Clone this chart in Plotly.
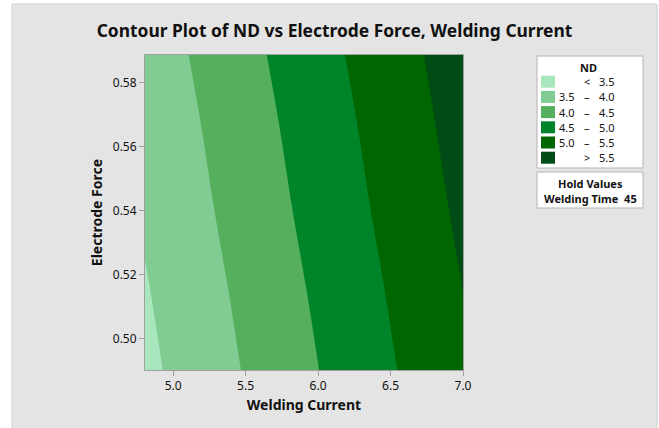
import plotly.graph_objects as go

# Data (ND at a coarse grid)
welding_current = [4.8, 5.35, 5.9, 6.45, 7.0]
electrode_force = [0.49, 0.515, 0.54, 0.565, 0.59]
nd_values = [
    [3.38, 3.89, 4.40, 4.91, 5.42],
    [3.46, 3.97, 4.48, 4.99, 5.50],
    [3.55, 4.06, 4.57, 5.08, 5.59],
    [3.63, 4.14, 4.65, 5.16, 5.67],
    [3.72, 4.23, 4.74, 5.25, 5.75],
]
band_colors = ["#A8E6BE", "#80CC92", "#55AF5D", "#00842A", "#006600", "#004C16"]
band_low = ["", "3.5", "4.0", "4.5", "5.0", ""]
band_sym = ["<", "–", "–", "–", "–", ">"]
band_high = ["3.5", "4.0", "4.5", "5.0", "5.5", "5.5"]
x_ticks = [5.0, 5.5, 6.0, 6.5, 7.0]
y_ticks = [0.50, 0.52, 0.54, 0.56, 0.58]

W, H = 659, 428
L, R, T, B = 145, 463, 55, 370
pw, ph = R - L, B - T

def px(x):
    return (x - L) / pw

def py(y):
    return (B - y) / ph

font = "Noto Sans"
fig = go.Figure()
fig.add_trace(go.Contour(
    x=welding_current, y=electrode_force, z=nd_values,
    contours=dict(start=3.5, end=5.5, size=0.5, coloring="fill", showlines=False),
    colorscale=[[i / 5, c] for i, c in enumerate(band_colors)],
    showscale=False, line=dict(width=0), hoverinfo="x+y+z",
))

shapes = [
    dict(type="rect", xref="paper", yref="paper", x0=px(12), x1=px(657), y0=py(4), y1=py(440),
         fillcolor="#E4E4E4", line=dict(color="#CFCFCF", width=1), layer="below"),
    dict(type="rect", xref="paper", yref="paper", x0=px(537), x1=px(643), y0=py(56), y1=py(168),
         fillcolor="white", line=dict(color="#B4B4B4", width=1), layer="below"),
    dict(type="rect", xref="paper", yref="paper", x0=px(537), x1=px(643), y0=py(172), y1=py(208),
         fillcolor="white", line=dict(color="#B4B4B4", width=1), layer="below"),
]

def label(text, x, y, xa="center"):
    return dict(text=text, x=px(x), y=py(y), xref="paper", yref="paper",
                xanchor=xa, yanchor="middle", showarrow=False,
                font=dict(family=font, size=11, color="#111"))

ann = [label("<b>ND</b>", 588, 68)]
row_y0, row_dy = 81.7, 15.2
for i, c in enumerate(band_colors):
    yc = row_y0 + i * row_dy
    shapes.append(dict(type="rect", xref="paper", yref="paper", x0=px(541), x1=px(555),
                       y0=py(yc - 6), y1=py(yc + 6), fillcolor=c, line=dict(width=0)))
    if band_low[i]:
        ann.append(label(band_low[i], 577, yc, "right"))
    ann.append(label(band_sym[i], 587, yc, "center"))
    ann.append(label(band_high[i], 597, yc, "left"))
ann.append(label("<b>Hold Values</b>", 590, 183))
ann.append(label("<b>Welding Time  45</b>", 590, 198))

axis_common = dict(showgrid=False, zeroline=False, showline=True, mirror=True,
                   linecolor="#A0A0A0", linewidth=1, ticks="outside", ticklen=5,
                   tickcolor="#A0A0A0", tickfont=dict(family=font, size=12, color="#111"))
fig.update_layout(
    width=W, height=H, margin=dict(l=L, r=W - R, t=T, b=H - B),
    paper_bgcolor="white", plot_bgcolor="#E4E4E4",
    title=dict(text="<b>Contour Plot of ND vs Electrode Force, Welding Current</b>",
               x=334.5 / W, xanchor="center", y=1 - 31 / H, yanchor="middle",
               font=dict(family=font, size=17.4, color="#111")),
    xaxis=dict(range=[4.806, 7.0], tickvals=x_ticks, tickformat=".1f",
               title=dict(text="<b>Welding Current</b>", font=dict(family=font, size=14, color="#111"), standoff=6),
               **axis_common),
    yaxis=dict(range=[0.4903, 0.5886], tickvals=y_ticks, tickformat=".2f",
               title=dict(text="<b>Electrode Force</b>", font=dict(family=font, size=14, color="#111"), standoff=6),
               **axis_common),
    shapes=shapes, annotations=ann, showlegend=False,
)
fig.write_html("out.html", config={"displayModeBar": False},
               post_script="document.body.style.margin='0';document.body.style.overflow='hidden';")
